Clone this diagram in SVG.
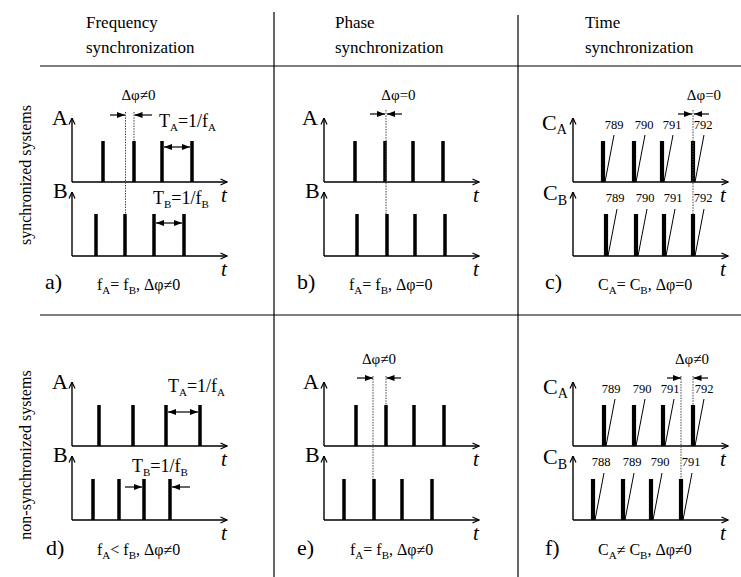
<svg xmlns="http://www.w3.org/2000/svg" width="741" height="577" viewBox="0 0 741 577">
<defs>
<style>
text{font-family:"Liberation Serif","Times New Roman",serif;fill:#000}
.hdr{font-size:17px}
.lbl{font-size:22px}
.it{font-size:21px;font-style:italic}
.cap{font-size:16px}
.dp{font-size:15px}
.num{font-size:12.5px}
.rot{font-size:16px}
.rule{stroke:#000;stroke-width:1.2;fill:none}
.ax{stroke:#000;stroke-width:1.4;fill:none;marker-end:url(#ah)}
.p{stroke:#000;stroke-width:3.5}
.pc{stroke:#000;stroke-width:4.2}
.sl{stroke:#000;stroke-width:1}
.dot{stroke:#444;stroke-width:1;stroke-dasharray:1.5 1.2;fill:none}
.ar{stroke:#000;stroke-width:1.2;fill:none;marker-end:url(#fa)}
.da{stroke:#000;stroke-width:1.2;fill:none;marker-start:url(#fa);marker-end:url(#fa)}
</style>
<marker id="fa" viewBox="0 0 8 6" refX="8" refY="3" markerWidth="8" markerHeight="6" markerUnits="userSpaceOnUse" orient="auto-start-reverse"><path d="M0,0L8,3L0,6z" fill="#000"/></marker>
<marker id="ah" viewBox="0 0 8 8" refX="7.5" refY="4" markerWidth="8" markerHeight="8" markerUnits="userSpaceOnUse" orient="auto"><path d="M1,1L7.5,4L1,7" fill="none" stroke="#000" stroke-width="1.2"/></marker>
</defs>
<rect width="741" height="577" fill="#fff"/>

<g id="grid">
<line class="rule" x1="40" y1="66" x2="741" y2="66"/>
<line class="rule" x1="40" y1="315" x2="741" y2="315"/>
<line class="rule" x1="274" y1="12" x2="274" y2="577"/>
<line class="rule" x1="518" y1="15" x2="518" y2="577"/>
</g>

<g id="headers">
<text class="hdr" x="86" y="28">Frequency</text>
<text class="hdr" x="86" y="53">synchronization</text>
<text class="hdr" x="335" y="28">Phase</text>
<text class="hdr" x="335" y="53">synchronization</text>
<text class="hdr" x="585" y="28">Time</text>
<text class="hdr" x="585" y="53">synchronization</text>
<text class="rot" transform="translate(31,175) rotate(-90)" text-anchor="middle">synchronized systems</text>
<text class="rot" transform="translate(31,455) rotate(-90)" text-anchor="middle">non-synchronized systems</text>
</g>

<!-- Panel a -->
<g id="panel-a">
<text class="lbl" x="52" y="125">A</text>
<text class="lbl" x="53" y="198">B</text>
<text class="it" x="221" y="202">t</text>
<text class="it" x="221" y="276">t</text>
<text class="dp" x="138.5" y="100" text-anchor="middle">Δφ≠0</text>
<text x="159" y="127" font-size="18">T<tspan font-size="11" dy="4">A</tspan><tspan dy="-4">=1/f</tspan><tspan font-size="11" dy="4">A</tspan></text>
<text x="153" y="204" font-size="18">T<tspan font-size="11" dy="4">B</tspan><tspan dy="-4">=1/f</tspan><tspan font-size="11" dy="4">B</tspan></text>
<text class="lbl" x="45" y="289">a)</text>
<text class="cap" x="97" y="290">f<tspan font-size="11" dy="4">A</tspan><tspan dy="-4">= f</tspan><tspan font-size="11" dy="4">B</tspan><tspan dy="-4">, Δφ≠0</tspan></text>
<line class="p" x1="103" y1="141" x2="103" y2="182"/>
<line class="p" x1="134" y1="141" x2="134" y2="182"/>
<line class="p" x1="162" y1="141" x2="162" y2="182"/>
<line class="p" x1="192" y1="141" x2="192" y2="182"/>
<line class="p" x1="96" y1="214" x2="96" y2="256"/>
<line class="p" x1="125" y1="214" x2="125" y2="256"/>
<line class="p" x1="154" y1="214" x2="154" y2="256"/>
<line class="p" x1="184" y1="214" x2="184" y2="256"/>
</g>

<!-- Panel b -->
<g id="panel-b">
<text class="lbl" x="302" y="125">A</text>
<text class="lbl" x="305" y="198">B</text>
<text class="it" x="473" y="202">t</text>
<text class="it" x="473" y="276">t</text>
<text class="dp" x="398.5" y="100" text-anchor="middle">Δφ=0</text>
<text class="lbl" x="297" y="289">b)</text>
<text class="cap" x="349" y="290">f<tspan font-size="11" dy="4">A</tspan><tspan dy="-4">= f</tspan><tspan font-size="11" dy="4">B</tspan><tspan dy="-4">, Δφ=0</tspan></text>
<line class="p" x1="355" y1="141" x2="355" y2="182"/>
<line class="p" x1="385" y1="141" x2="385" y2="182"/>
<line class="p" x1="413" y1="141" x2="413" y2="182"/>
<line class="p" x1="443" y1="141" x2="443" y2="182"/>
<line class="p" x1="357" y1="214" x2="357" y2="256"/>
<line class="p" x1="387" y1="214" x2="387" y2="256"/>
<line class="p" x1="415" y1="214" x2="415" y2="256"/>
<line class="p" x1="445" y1="214" x2="445" y2="256"/>
</g>

<!-- Panel c -->
<g id="panel-c">
<text class="lbl" x="542" y="130">C<tspan font-size="14" dy="4">A</tspan></text>
<text class="lbl" x="543" y="200">C<tspan font-size="14" dy="5">B</tspan></text>
<text class="it" x="720" y="202">t</text>
<text class="it" x="720" y="276">t</text>
<text class="dp" x="704" y="100" text-anchor="middle">Δφ=0</text>
<g class="num" text-anchor="middle">
<text x="614" y="129">789</text><text x="644" y="129">790</text><text x="672" y="129">791</text><text x="703" y="129">792</text>
<text x="615" y="202">789</text><text x="645" y="202">790</text><text x="673" y="202">791</text><text x="703" y="202">792</text>
</g>
<text class="lbl" x="545" y="289">c)</text>
<text class="cap" x="598" y="290">C<tspan font-size="11" dy="4">A</tspan><tspan dy="-4">= C</tspan><tspan font-size="11" dy="4">B</tspan><tspan dy="-4">, Δφ=0</tspan></text>
<line class="pc" x1="603" y1="141" x2="603" y2="182"/>
<line class="pc" x1="634" y1="141" x2="634" y2="182"/>
<line class="pc" x1="662" y1="141" x2="662" y2="182"/>
<line class="pc" x1="693" y1="141" x2="693" y2="182"/>
<line class="sl" x1="605" y1="182" x2="614" y2="135"/>
<line class="sl" x1="636" y1="182" x2="645" y2="135"/>
<line class="sl" x1="664" y1="182" x2="673" y2="135"/>
<line class="sl" x1="695" y1="182" x2="704" y2="135"/>
<line class="pc" x1="606" y1="214" x2="606" y2="256"/>
<line class="pc" x1="636" y1="214" x2="636" y2="256"/>
<line class="pc" x1="664" y1="214" x2="664" y2="256"/>
<line class="pc" x1="693" y1="214" x2="693" y2="256"/>
<line class="sl" x1="608" y1="256" x2="617" y2="209"/>
<line class="sl" x1="638" y1="256" x2="647" y2="209"/>
<line class="sl" x1="666" y1="256" x2="675" y2="209"/>
<line class="sl" x1="695" y1="256" x2="704" y2="209"/>
</g>

<!-- Panel d -->
<g id="panel-d">
<text class="lbl" x="52" y="389">A</text>
<text class="lbl" x="53" y="462">B</text>
<text class="it" x="221" y="466">t</text>
<text class="it" x="221" y="540">t</text>
<text x="168" y="392" font-size="18">T<tspan font-size="11" dy="4">A</tspan><tspan dy="-4">=1/f</tspan><tspan font-size="11" dy="4">A</tspan></text>
<text x="132" y="472" font-size="18">T<tspan font-size="11" dy="4">B</tspan><tspan dy="-4">=1/f</tspan><tspan font-size="11" dy="4">B</tspan></text>
<text class="lbl" x="46" y="555">d)</text>
<text class="cap" x="97" y="555">f<tspan font-size="11" dy="4">A</tspan><tspan dy="-4">&lt; f</tspan><tspan font-size="11" dy="4">B</tspan><tspan dy="-4">, Δφ≠0</tspan></text>
<line class="p" x1="99" y1="405" x2="99" y2="446"/>
<line class="p" x1="133" y1="405" x2="133" y2="446"/>
<line class="p" x1="166" y1="405" x2="166" y2="446"/>
<line class="p" x1="200" y1="405" x2="200" y2="446"/>
<line class="p" x1="93" y1="479" x2="93" y2="520"/>
<line class="p" x1="119" y1="479" x2="119" y2="520"/>
<line class="p" x1="144" y1="479" x2="144" y2="520"/>
<line class="p" x1="170" y1="479" x2="170" y2="520"/>
</g>

<!-- Panel e -->
<g id="panel-e">
<text class="lbl" x="303" y="389">A</text>
<text class="lbl" x="305" y="462">B</text>
<text class="it" x="473" y="466">t</text>
<text class="it" x="473" y="540">t</text>
<text class="dp" x="379" y="364" text-anchor="middle">Δφ≠0</text>
<text class="lbl" x="297" y="555">e)</text>
<text class="cap" x="350" y="555">f<tspan font-size="11" dy="4">A</tspan><tspan dy="-4">= f</tspan><tspan font-size="11" dy="4">B</tspan><tspan dy="-4">, Δφ≠0</tspan></text>
<line class="p" x1="356" y1="405" x2="356" y2="446"/>
<line class="p" x1="386" y1="405" x2="386" y2="446"/>
<line class="p" x1="414" y1="405" x2="414" y2="446"/>
<line class="p" x1="444" y1="405" x2="444" y2="446"/>
<line class="p" x1="344" y1="479" x2="344" y2="520"/>
<line class="p" x1="374" y1="479" x2="374" y2="520"/>
<line class="p" x1="402" y1="479" x2="402" y2="520"/>
<line class="p" x1="432" y1="479" x2="432" y2="520"/>
</g>

<!-- Panel f -->
<g id="panel-f">
<text class="lbl" x="543" y="394">C<tspan font-size="14" dy="4">A</tspan></text>
<text class="lbl" x="543" y="464">C<tspan font-size="14" dy="5">B</tspan></text>
<text class="it" x="720" y="466">t</text>
<text class="it" x="720" y="540">t</text>
<text class="dp" x="692" y="364" text-anchor="middle">Δφ≠0</text>
<g class="num" text-anchor="middle">
<text x="611" y="393">789</text><text x="642" y="393">790</text><text x="670" y="393">791</text><text x="704" y="393">792</text>
<text x="601" y="466">788</text><text x="632" y="466">789</text><text x="660" y="466">790</text><text x="691" y="466">791</text>
</g>
<text class="lbl" x="545" y="555">f)</text>
<text class="cap" x="598" y="555">C<tspan font-size="11" dy="4">A</tspan><tspan dy="-4">≠ C</tspan><tspan font-size="11" dy="4">B</tspan><tspan dy="-4">, Δφ≠0</tspan></text>
<line class="pc" x1="604" y1="405" x2="604" y2="446"/>
<line class="pc" x1="634" y1="405" x2="634" y2="446"/>
<line class="pc" x1="663" y1="405" x2="663" y2="446"/>
<line class="pc" x1="693" y1="405" x2="693" y2="446"/>
<line class="sl" x1="606" y1="446" x2="615" y2="399"/>
<line class="sl" x1="636" y1="446" x2="645" y2="399"/>
<line class="sl" x1="665" y1="446" x2="674" y2="399"/>
<line class="sl" x1="695" y1="446" x2="704" y2="399"/>
<line class="pc" x1="593" y1="479" x2="593" y2="520"/>
<line class="pc" x1="623" y1="479" x2="623" y2="520"/>
<line class="pc" x1="651" y1="479" x2="651" y2="520"/>
<line class="pc" x1="681" y1="479" x2="681" y2="520"/>
<line class="sl" x1="595" y1="520" x2="604" y2="473"/>
<line class="sl" x1="625" y1="520" x2="634" y2="473"/>
<line class="sl" x1="653" y1="520" x2="662" y2="473"/>
<line class="sl" x1="683" y1="520" x2="692" y2="473"/>
</g>

<g id="connectors">
<!-- axes -->
<path class="ax" d="M72,182V118"/><path class="ax" d="M72,182H227"/>
<path class="ax" d="M72,256V192"/><path class="ax" d="M72,256H227"/>
<path class="ax" d="M324,182V118"/><path class="ax" d="M324,182H479"/>
<path class="ax" d="M324,256V192"/><path class="ax" d="M324,256H479"/>
<path class="ax" d="M573,182V118"/><path class="ax" d="M573,182H728"/>
<path class="ax" d="M573,256V192"/><path class="ax" d="M573,256H728"/>
<path class="ax" d="M72,446V382"/><path class="ax" d="M72,446H227"/>
<path class="ax" d="M72,520V456"/><path class="ax" d="M72,520H227"/>
<path class="ax" d="M324,446V382"/><path class="ax" d="M324,446H479"/>
<path class="ax" d="M324,520V456"/><path class="ax" d="M324,520H479"/>
<path class="ax" d="M573,446V382"/><path class="ax" d="M573,446H728"/>
<path class="ax" d="M573,520V456"/><path class="ax" d="M573,520H728"/>
<!-- dotted reference lines -->
<path class="dot" d="M125.5,112V214M134,112V141"/>
<path class="dot" d="M386,110V214"/>
<path class="dot" d="M693,110V214"/>
<path class="dot" d="M373,376V479M386,376V405"/>
<path class="dot" d="M681,376V479M693,376V405"/>
<!-- phase arrows -->
<path class="ar" d="M110,115H125"/><path class="ar" d="M152,115H134.5"/>
<path class="ar" d="M370,114H385"/><path class="ar" d="M402,114H387"/>
<path class="ar" d="M678,114H692"/><path class="ar" d="M709,114H694"/>
<path class="ar" d="M357,378H373"/><path class="ar" d="M401,378H386.5"/>
<path class="ar" d="M667,378H681"/><path class="ar" d="M708,378H693.5"/>
<!-- period arrows -->
<path class="da" d="M164,147H190"/>
<path class="da" d="M156,223H182"/>
<path class="da" d="M168,412H198"/>
<path class="ar" d="M125,487H142"/><path class="ar" d="M190,487H172"/>
</g>
</svg>
